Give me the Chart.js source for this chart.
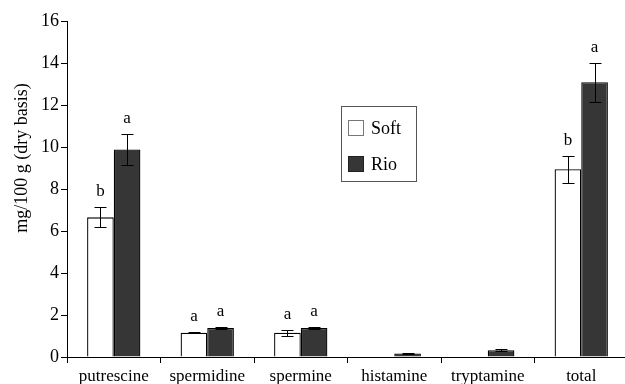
<!DOCTYPE html>
<html>
<head>
<meta charset="utf-8">
<script src="https://cdn.jsdelivr.net/npm/chart.js"></script>
<style>
  html, body { margin: 0; padding: 0; background: #fff; overflow: hidden; }
  #wrap { width: 625px; height: 384px; overflow: hidden; }
</style>
</head>
<body>
<div id="wrap"><canvas id="amineChart" width="628" height="384"></canvas></div>
<script>
// amine content, mg/100 g dry basis
const categories = ['putrescine', 'spermidine', 'spermine', 'histamine', 'tryptamine', 'total'];
const softValues = [6.65, 1.16, 1.16, null, null, 8.94];
const softErrors = [0.48, 0.02, 0.14, 0, 0, 0.65];
const rioValues = [9.88, 1.38, 1.38, 0.17, 0.32, 13.08];
const rioErrors = [0.72, 0.07, 0.07, 0.02, 0.04, 0.92];
const softLetters = ['b', 'a', 'a', '', '', 'b'];
const rioLetters = ['a', 'a', 'a', '', '', 'a'];
const yTicks = [0, 2, 4, 6, 8, 10, 12, 14, 16];

const serif = '"Liberation Serif", "DejaVu Serif", serif';

// error bars + significance letters
const errorBarPlugin = {
    id: 'errorBars',
    afterDatasetsDraw(chart) {
        const ctx = chart.ctx;
        const y = chart.scales.y;
        chart.data.datasets.forEach((ds, di) => {
            const meta = chart.getDatasetMeta(di);
            meta.data.forEach((bar, i) => {
                const v = ds.data[i];
                if (v == null) return;
                const e = ds.errors[i];
                const top = Math.round(y.getPixelForValue(v + e)) + 0.5;
                const bot = Math.round(y.getPixelForValue(v - e)) + 0.5;
                const x = Math.round(bar.x) + 0.5;
                ctx.save();
                ctx.strokeStyle = '#000';
                ctx.lineWidth = 1;
                ctx.beginPath();
                ctx.moveTo(x, top);
                ctx.lineTo(x, bot);
                ctx.moveTo(x - 6, top);
                ctx.lineTo(x + 6, top);
                ctx.moveTo(x - 6, bot);
                ctx.lineTo(x + 6, bot);
                ctx.stroke();
                const letter = ds.letters[i];
                if (letter) {
                    ctx.fillStyle = '#000';
                    ctx.font = '17px ' + serif;
                    ctx.textAlign = 'center';
                    ctx.textBaseline = 'alphabetic';
                    ctx.fillText(letter, bar.x, top - 12);
                }
                ctx.restore();
            });
        });
    },
    afterDraw(chart) {
        const ctx = chart.ctx;
        // boxed legend
        ctx.save();
        ctx.strokeStyle = '#555';
        ctx.lineWidth = 1;
        ctx.strokeRect(341.5, 106.5, 75, 75);
        ctx.font = '18px ' + serif;
        ctx.textBaseline = 'middle';
        ctx.textAlign = 'left';
        const rows = [128, 164];
        chart.data.datasets.forEach((ds, di) => {
            const cy = rows[di];
            ctx.fillStyle = ds.backgroundColor;
            ctx.fillRect(348.5, cy - 7.5, 15, 15);
            ctx.strokeStyle = di === 0 ? '#777' : '#222';
            ctx.strokeRect(348.5, cy - 7.5, 15, 15);
            ctx.fillStyle = '#000';
            ctx.fillText(ds.label, 371, cy + 1);
        });
        // y axis title
        ctx.translate(22, 158);
        ctx.rotate(-Math.PI / 2);
        ctx.textAlign = 'center';
        ctx.font = '18px ' + serif;
        ctx.fillText('mg/100 g (dry basis)', 0, 0);
        ctx.restore();
    }
};

new Chart(document.getElementById('amineChart'), {
    type: 'bar',
    data: {
        labels: categories,
        datasets: [
            {
                label: 'Soft',
                data: softValues,
                errors: softErrors,
                letters: softLetters,
                backgroundColor: '#ffffff',
                borderColor: '#000000',
                borderWidth: 1.3,
                categoryPercentage: 0.57,
                barPercentage: 1.0,
            },
            {
                label: 'Rio',
                data: rioValues,
                errors: rioErrors,
                letters: rioLetters,
                backgroundColor: '#363636',
                borderColor: '#000000',
                borderWidth: 1.3,
                categoryPercentage: 0.57,
                barPercentage: 1.0,
            },
        ],
    },
    options: {
        responsive: false,
        animation: false,
        layout: { padding: { top: 21, right: 0, left: 0, bottom: 0 } },
        plugins: {
            legend: { display: false },
            tooltip: { enabled: false },
        },
        scales: {
            x: {
                offset: true,
                grid: {
                    offset: true,
                    drawOnChartArea: false,
                    tickLength: 6,
                    color: '#000',
                },
                border: { color: '#000', width: 1 },
                ticks: {
                    color: '#000',
                    font: { family: serif, size: 17 },
                    padding: 3,
                    maxRotation: 0,
                },
                afterFit: s => { s.height = 27; },
            },
            y: {
                min: 0,
                max: 16,
                afterBuildTicks: s => { s.ticks = yTicks.map(v => ({ value: v })); },
                grid: {
                    drawOnChartArea: false,
                    tickLength: 6,
                    color: '#000',
                },
                border: { color: '#000', width: 1 },
                ticks: {
                    color: '#000',
                    font: { family: serif, size: 18 },
                    padding: 2,
                },
                afterFit: s => { s.width = 67; },
            },
        },
    },
    plugins: [errorBarPlugin],
});
</script>
</body>
</html>
